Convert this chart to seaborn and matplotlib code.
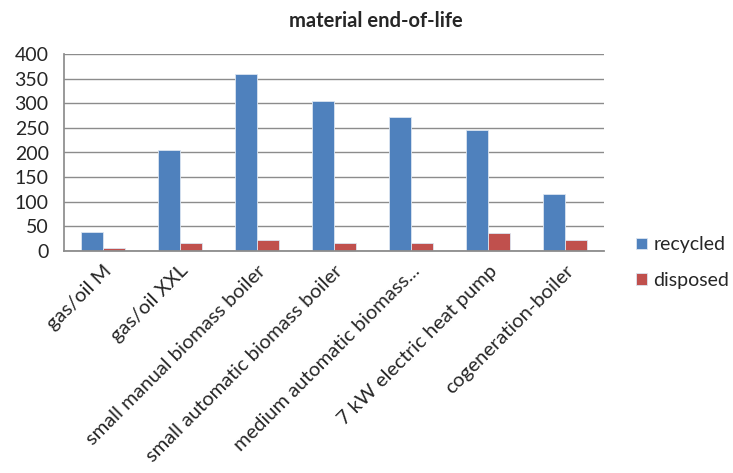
import matplotlib
matplotlib.use("Agg")
import matplotlib.pyplot as plt
import seaborn as sns
import pandas as pd
import numpy as np

categories = ["gas/oil M", "gas/oil XXL", "small manual biomass boiler",
              "small automatic biomass boiler", "medium automatic biomass...",
              "7 kW electric heat pump", "cogeneration-boiler"]
recycled = [39, 205, 359, 304, 272, 245, 116]
disposed = [7, 17, 22, 17, 17, 37, 22]
series_names = ["recycled", "disposed"]
colors = ["#4F81BD", "#C0504D"]
yticks = [0, 50, 100, 150, 200, 250, 300, 350, 400]

df = pd.DataFrame({
    "category": categories * 2,
    "value": recycled + disposed,
    "series": [series_names[0]] * len(categories) + [series_names[1]] * len(categories),
})

sns.set_theme(style="white")
plt.rcParams["font.family"] = ["Lato", "DejaVu Sans"]

fig = plt.figure(figsize=(7.33, 4.73), dpi=100)
ax = fig.add_axes([64/733, 222/473, 540/733, (251-54)/473])

sns.barplot(data=df, x="category", y="value", hue="series", palette=colors,
            width=0.57, ax=ax, edgecolor="#dbe5f1", linewidth=0.6, saturation=1)

ax.set_ylim(0, 400)
ax.set_xlim(-0.5, len(categories) - 0.5)
ax.set_yticks(yticks)
ax.set_yticklabels([str(t) for t in yticks], fontsize=14)
ax.yaxis.grid(True, color="#8c8c8c", linewidth=1)
ax.set_axisbelow(True)
ax.set_xlabel("")
ax.set_ylabel("")
for s in ["top", "right"]:
    ax.spines[s].set_visible(False)
ax.spines["left"].set_color("#8c8c8c")
ax.spines["bottom"].set_color("#8c8c8c")
ax.spines["bottom"].set_linewidth(1.3)

# major ticks at category boundaries (no labels), minor at centers for labels
ax.set_xticks(np.arange(-0.5, len(categories) + 0.5, 1))
ax.set_xticklabels([])
ax.tick_params(axis="x", which="major", direction="out", length=5, color="#8c8c8c", width=1)
ax.set_xticks(np.arange(len(categories)), minor=True)
ax.set_xticklabels(categories, minor=True, rotation=45, ha="right",
                   rotation_mode="anchor", fontsize=14.5)
ax.tick_params(axis="x", which="minor", length=0, pad=8)
ax.tick_params(axis="y", direction="out", length=5, color="#8c8c8c", width=1, pad=6)

ax.legend(loc="center left", bbox_to_anchor=(636/733, 1 - 262.5/473),
          bbox_transform=fig.transFigure, frameon=False, borderpad=0,
          borderaxespad=0, fontsize=14, handlelength=0.55, handleheight=0.55,
          handletextpad=0.35, labelspacing=0.95)

fig.text(376/733, 1 - 21/473, "material end-of-life", ha="center", va="center",
         fontsize=14.5, fontweight="bold")

fig.savefig("out.png", dpi=100)
